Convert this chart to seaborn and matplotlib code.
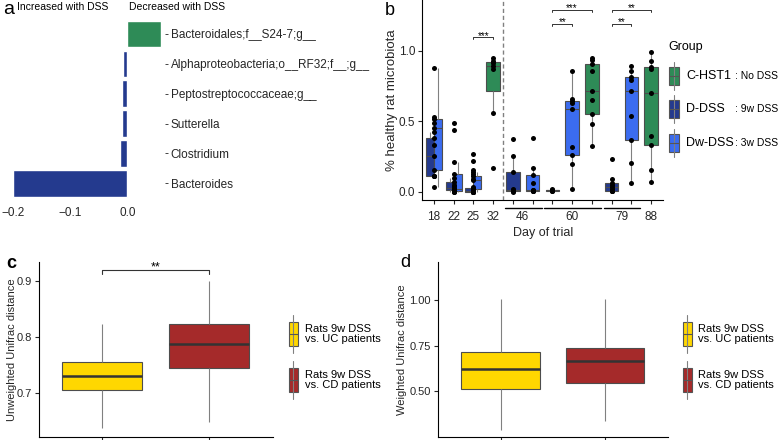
import matplotlib
matplotlib.use("Agg")
import matplotlib.pyplot as plt
from matplotlib.patches import Rectangle
from matplotlib.lines import Line2D
from matplotlib.transforms import blended_transform_factory
import numpy as np
import pandas as pd
import seaborn as sns

W, H = 781, 440

# === Panel a: taxa changed with DSS ===
taxa = ["Bacteroidales;f__S24-7;g__", "Alphaproteobacteria;o__RF32;f__;g__",
        "Peptostreptococcaceae;g__", "Sutterella", "Clostridium", "Bacteroides"]
taxa_change = [0.058, -0.007, -0.009, -0.010, -0.012, -0.200]

# === Panel b: % healthy rat microbiota per day ===
group_names = ["C-HST1", "D-DSS", "Dw-DSS"]
group_notes = [": No DSS", ": 9w DSS", ": 3w DSS"]
group_colors = ["#2e8b57", "#243a8e", "#3b6cf0"]

# x slots of the plot (days shared by two groups get one dodged slot)
b_slots = ["18", "22", "25", "32", "46 D-DSS", "46 Dw-DSS", "60 D-DSS", "60 Dw-DSS",
           "60 C-HST1", "79 D-DSS", "79 Dw-DSS", "88"]

ddss_18 = [0.110, 0.112, 0.253, 0.379, 0.426]
dwdss_18 = [0.035, 0.110, 0.154, 0.331, 0.454, 0.490, 0.513, 0.527, 0.875]
ddss_22 = [0.0, 0.005, 0.012, 0.018, 0.024, 0.040, 0.066, 0.100, 0.485]
dwdss_22 = [0.0, 0.003, 0.007, 0.012, 0.019, 0.050, 0.123, 0.213, 0.437]
ddss_25 = [0.0, 0.0, 0.0, 0.001, 0.003, 0.004, 0.005, 0.010, 0.020, 0.024, 0.154, 0.218, 0.265]
dwdss_25 = [0.0, 0.010, 0.017, 0.035, 0.083, 0.090, 0.111, 0.125, 0.137]
chst1_32 = [0.17, 0.56, 0.87, 0.89, 0.91, 0.93, 0.95]
ddss_46 = [0.0, 0.005, 0.007, 0.010, 0.012, 0.020, 0.137, 0.253, 0.372]
dwdss_46 = [0.003, 0.005, 0.007, 0.009, 0.012, 0.064, 0.118, 0.170, 0.383]
ddss_60 = [0.005, 0.008, 0.010, 0.012, 0.018]
dwdss_60 = [0.017, 0.196, 0.258, 0.319, 0.587, 0.627, 0.643, 0.657, 0.856]
chst1_60 = [0.324, 0.480, 0.553, 0.650, 0.716, 0.856, 0.903, 0.934, 0.950]
ddss_79 = [0.003, 0.005, 0.007, 0.020, 0.031, 0.045, 0.064, 0.088, 0.234]
dwdss_79 = [0.062, 0.201, 0.367, 0.539, 0.714, 0.792, 0.811, 0.858, 0.891]
chst1_88 = [0.071, 0.154, 0.333, 0.395, 0.702, 0.872, 0.887, 0.930, 0.993]

b_boxes = [
    ("D-DSS", "18", ddss_18), ("Dw-DSS", "18", dwdss_18),
    ("D-DSS", "22", ddss_22), ("Dw-DSS", "22", dwdss_22),
    ("D-DSS", "25", ddss_25), ("Dw-DSS", "25", dwdss_25),
    ("C-HST1", "32", chst1_32),
    ("D-DSS", "46", ddss_46), ("Dw-DSS", "46", dwdss_46),
    ("D-DSS", "60", ddss_60), ("Dw-DSS", "60", dwdss_60), ("C-HST1", "60", chst1_60),
    ("D-DSS", "79", ddss_79), ("Dw-DSS", "79", dwdss_79),
    ("C-HST1", "88", chst1_88),
]

# significance brackets: (slot from, slot to, stars, height)
b_signif = [("25", "32", "***", 1.095),
            ("60 D-DSS", "60 C-HST1", "***", 1.289), ("60 D-DSS", "60 Dw-DSS", "**", 1.19),
            ("79 D-DSS", "88", "**", 1.289), ("79 D-DSS", "79 Dw-DSS", "**", 1.19)]

# === Panels c, d: distances rats vs patients (whisker-low, Q1, median, Q3, whisker-high) ===
comparisons = ["Rats 9w DSS\nvs. UC patients", "Rats 9w DSS\nvs. CD patients"]
comparison_colors = ["#ffd700", "#a52a2a"]
unweighted_uc = [0.637, 0.705, 0.731, 0.755, 0.823]
unweighted_cd = [0.649, 0.745, 0.7875, 0.823, 0.900]
weighted_uc = [0.284, 0.509, 0.623, 0.714, 1.009]
weighted_cd = [0.333, 0.546, 0.666, 0.739, 1.009]

# === Style ===
sns.set_style("ticks")
plt.rcParams["font.family"] = ["Liberation Sans", "DejaVu Sans"]
plt.rcParams["axes.linewidth"] = 0.8
plt.rcParams["xtick.major.width"] = 0.8
plt.rcParams["ytick.major.width"] = 0.8
plt.rcParams["xtick.major.size"] = 3
plt.rcParams["ytick.major.size"] = 3
plt.rcParams["axes.edgecolor"] = "black"
plt.rcParams["text.color"] = "black"

fig = plt.figure(figsize=(W / 100, H / 100), dpi=100)


def px_axes(left, top, right, bottom):
    return fig.add_axes([left / W, 1 - bottom / H, (right - left) / W, (bottom - top) / H])


def ftext(x, y, s, **kw):
    fig.text(x / W, 1 - y / H, s, **kw)


def box_key(x, y, color, w, box_h, whisk_h):
    tf = fig.transFigure
    fig.add_artist(Line2D([x / W, x / W], [1 - (y - whisk_h / 2) / H, 1 - (y + whisk_h / 2) / H],
                          color="#808080", lw=0.8, transform=tf))
    fig.add_artist(Rectangle(((x - w / 2) / W, 1 - (y + box_h / 2) / H), w / W, box_h / H,
                             facecolor=color, edgecolor="#555555", lw=0.8, transform=tf))
    fig.add_artist(Line2D([(x - w / 2) / W, (x + w / 2) / W], [1 - y / H, 1 - y / H],
                          color="#555555", lw=0.8, transform=tf))


box_style = dict(linecolor="#4d4d4d", linewidth=0.8, showcaps=False, saturation=1,
                 whiskerprops={"color": "#808080"})

# === Panel a ===
ax_a = px_axes(5, 17, 165, 201)
a_palette = {t: (group_colors[0] if v > 0 else group_colors[1]) for t, v in zip(taxa, taxa_change)}
sns.barplot(x=taxa_change, y=taxa, hue=taxa, palette=a_palette, orient="h", width=0.88,
            saturation=1, legend=False, ax=ax_a)
ax_a.yaxis.tick_right()
for s in ax_a.spines.values():
    s.set_visible(False)
ax_a.set_xlim(-0.2134, 0.0658)
ax_a.set_ylim(5.59, -0.56)
ax_a.set_xticks([-0.2, -0.1, 0.0])
ax_a.set_xticklabels(["\u22120.2", "\u22120.1", "0.0"])
ax_a.tick_params(axis="x", length=0, pad=4, labelsize=8.5)
ax_a.tick_params(axis="y", length=2.5, width=0.6, pad=1.5, labelsize=8.5)
ax_a.set_xlabel("")
ax_a.set_ylabel("")
ftext(17, 7, "Increased with DSS", fontsize=7.5, va="center")
ftext(129, 7, "Decreased with DSS", fontsize=7.5, va="center")

# === Panel b ===
rows = []
for grp, day, vals in b_boxes:
    slot = day if day in b_slots else f"{day} {grp}"
    for v in vals:
        rows.append({"group": grp, "day": day, "tick": b_slots.index(slot) + 1, "value": v})
df_b = pd.DataFrame(rows)
n_in_slot = df_b.groupby("tick")["group"].transform("nunique")
rank = df_b.apply(lambda r: sorted(df_b.loc[df_b.tick == r.tick, "group"].unique(),
                                   key=["D-DSS", "Dw-DSS", "C-HST1"].index).index(r.group), axis=1)
df_b["box_pos"] = df_b["tick"] + (rank - (n_in_slot - 1) / 2) * 0.4
b_palette = dict(zip(group_names, group_colors))

ax_b = px_axes(422, 0, 663, 200)
shared = df_b[n_in_slot > 1]
single = df_b[n_in_slot == 1]
sns.boxplot(data=shared, x="box_pos", y="value", hue="group", palette=b_palette, native_scale=True,
            dodge=False, width=1.0, showfliers=False, orient="x", legend=False, ax=ax_b, **box_style)
sns.boxplot(data=single, x="box_pos", y="value", hue="group", palette=b_palette, native_scale=True,
            dodge=False, width=0.69, showfliers=False, orient="x", legend=False, ax=ax_b, **box_style)
sns.stripplot(data=df_b, x="tick", y="value", native_scale=True, jitter=False, color="black",
              size=3.6, orient="x", ax=ax_b, zorder=4)
ax_b.axvline(4.5, color="#808080", ls=(0, (3, 2)), lw=1)
ax_b.set_xlim(0.4, 12.6)
ax_b.set_ylim(-0.059, 1.36)
ax_b.set_yticks([0.0, 0.5, 1.0])
ax_b.set_yticklabels(["0.0", "0.5", "1.0"])
ax_b.tick_params(axis="y", labelsize=8.5, pad=2)
sns.despine(ax=ax_b)

day_labels = list(dict.fromkeys(s.split()[0] for s in b_slots))
label_pos = [np.mean([i + 1 for i, s in enumerate(b_slots) if s.split()[0] == d]) for d in day_labels]
ax_b.xaxis.remove_overlapping_locs = False
ax_b.set_xticks(range(1, len(b_slots) + 1))
ax_b.set_xticklabels([])
ax_b.set_xticks(label_pos, labels=day_labels, minor=True)
ax_b.tick_params(axis="x", which="minor", length=0, pad=8, labelsize=8.5)
blend = blended_transform_factory(ax_b.transData, ax_b.transAxes)
for d in day_labels:
    members = [i + 1 for i, s in enumerate(b_slots) if s.split()[0] == d]
    if len(members) > 1:
        ax_b.plot([members[0] - 0.4, members[-1] + 0.45], [-0.04, -0.04], color="black", lw=1,
                  transform=blend, clip_on=False)

for s0, s1, stars, y in b_signif:
    x0, x1 = b_slots.index(s0) + 1, b_slots.index(s1) + 1
    ax_b.plot([x0, x0, x1, x1], [y - 0.015, y, y, y - 0.015], color="#333333", lw=0.7, clip_on=False)
    ax_b.text((x0 + x1) / 2, y - 0.01, stars, ha="center", va="baseline", fontsize=7)

ax_b.set_xlabel("Day of trial", fontsize=9, va="top")
ax_b.xaxis.set_label_coords(0.502, -0.135)
ax_b.set_ylabel("% healthy rat microbiota", fontsize=9.5)
ax_b.yaxis.set_label_coords(-0.1, 0.5)

# legend of panel b
ftext(668, 47, "Group", fontsize=9, va="center")
for (name, note, col), ky in zip(zip(group_names, group_notes, group_colors), [76, 109, 143]):
    box_key(674, ky, col, 10, 18, 28)
    ftext(686, ky, name, fontsize=9, va="center")
    ftext(735, ky, note, fontsize=7.5, va="center")


# === Panels c and d ===
def distance_panel(ax, uc, cd, ylim, yticks, ylabels, ylabel, label_x):
    df = pd.DataFrame({"comparison": [comparisons[0]] * len(uc) + [comparisons[1]] * len(cd),
                       "distance": uc + cd})
    sns.boxplot(data=df, x="comparison", y="distance", hue="comparison",
                palette=dict(zip(comparisons, comparison_colors)), width=0.75, dodge=False,
                whis=(0, 100), showfliers=False, legend=False, ax=ax,
                medianprops={"color": "#333333", "linewidth": 1.8}, **box_style)
    sns.despine(ax=ax)
    ax.set_xlim(-0.6, 1.6)
    ax.set_ylim(*ylim)
    ax.set_xticks([0, 1])
    ax.set_xticklabels(["", ""])
    ax.set_yticks(yticks)
    ax.set_yticklabels(ylabels)
    ax.tick_params(axis="y", labelsize=8, pad=2)
    ax.set_xlabel("")
    ax.set_ylabel(ylabel, fontsize=8)
    ax.yaxis.set_label_coords(label_x, 0.5)


ax_c = px_axes(38.5, 261.7, 272.5, 436.7)
distance_panel(ax_c, unweighted_uc, unweighted_cd, (0.622, 0.934), [0.7, 0.8, 0.9],
               ["0.7", "0.8", "0.9"], "Unweighted Unifrac distance", -0.09)
ax_c.plot([0, 0, 1, 1], [0.912, 0.92, 0.92, 0.912], color="#333333", lw=0.8, clip_on=False)
ax_c.text(0.5, 0.918, "**", ha="center", va="baseline", fontsize=9)

ax_d = px_axes(438, 261.7, 667.5, 436.7)
distance_panel(ax_d, weighted_uc, weighted_cd, (0.248, 1.213), [0.5, 0.75, 1.0],
               ["0.50", "0.75", "1.00"], "Weighted Unifrac distance", -0.135)

for kx, tx in [(293, 305), (687, 698)]:
    for comp, col, ky in zip(comparisons, comparison_colors, [334, 380]):
        box_key(kx, ky, col, 9, 23.7, 37.7)
        ftext(tx, ky, comp, fontsize=8, va="center", linespacing=1.1)

# panel letters
ftext(3, 13.5, "a", fontsize=14, va="baseline")
ftext(385, 15, "b", fontsize=13, va="baseline")
ftext(6, 268, "c", fontsize=13, va="baseline", fontweight="bold")
ftext(400, 267, "d", fontsize=13, va="baseline")

fig.savefig("out.png", dpi=100)
